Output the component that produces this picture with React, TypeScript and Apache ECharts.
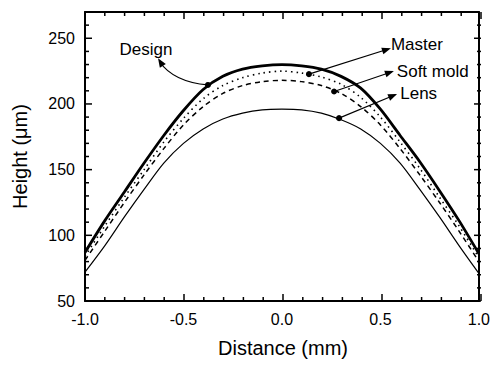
import React, { useEffect, useRef } from "react";
import * as echarts from "echarts";

const xs = [-1.0, -0.9, -0.8, -0.7, -0.6, -0.5, -0.4, -0.3, -0.2, -0.1, 0.0, 0.1, 0.2, 0.3, 0.4, 0.5, 0.6, 0.7, 0.8, 0.9, 1.0];
const design = [87, 111, 133, 155, 176, 195, 211, 221, 226.5, 229, 230, 229, 226.5, 221, 212, 196, 176, 156, 134, 111, 86];
const master = [84, 107, 129, 150, 171, 189, 204, 214, 220, 223.5, 225, 223.5, 220.5, 215, 205, 190, 171, 151, 129, 107, 83];
const softMold = [81, 103, 125, 146, 166, 184, 198, 208, 214, 217, 218, 217, 214, 208, 198, 184, 166, 146, 125, 103, 80];
const lens = [72, 92, 114, 135, 155, 170, 181, 188.5, 193, 195.5, 196, 195.5, 193, 188, 181, 170, 155, 135, 114, 92, 71];

const yTickLabels = [50, 100, 150, 200, 250];
const xMajorTicks = [-1.0, -0.5, 0.0, 0.5, 1.0];
const xMinorTicks = [-0.9, -0.8, -0.7, -0.6, -0.4, -0.3, -0.2, -0.1, 0.1, 0.2, 0.3, 0.4, 0.6, 0.7, 0.8, 0.9];
const yMajorTicks = [50, 100, 150, 200, 250];
const yMinorTicks = [60, 70, 80, 90, 110, 120, 130, 140, 160, 170, 180, 190, 210, 220, 230, 240, 260];
const xTitle = "Distance (mm)";
const yTitle = "Height (\u03bcm)";

// annotation anchors in data coordinates: [dotX, dotY, tipX, tipY, textX, textY]
const annMaster = [0.131, 222.7, 0.545, 242.4, 0.545, 245];
const annSoft = [0.258, 209.5, 0.56, 225, 0.575, 225];
const annLens = [0.283, 189.2, 0.576, 207.6, 0.592, 207.6];
const annDesign = [-0.379, 214.5, -0.631, 234.8, -0.692, 241.7];
const designCtrl = [-0.495, 215.9, -0.58, 222.5];

const FONT = "'Liberation Sans', Arial, Helvetica, sans-serif";
const W = 493, H = 365;
const GRID = { left: 85, right: 12, top: 12, bottom: 64 };
const X_MIN = -1, X_MAX = 1, Y_MIN = 50, Y_MAX = 270;

function pair(a: number[], b: number[]) {
  return a.map((v, i) => [v, b[i]]);
}

// same linear mapping the grid's value axes use (for annotations and axis ticks only)
function px(x: number, y: number) {
  const pw = W - GRID.left - GRID.right;
  const ph = H - GRID.top - GRID.bottom;
  return [GRID.left + ((x - X_MIN) / (X_MAX - X_MIN)) * pw, GRID.top + ((Y_MAX - y) / (Y_MAX - Y_MIN)) * ph];
}

function buildGraphics() {
  const graphics: any[] = [];
  const tick = (x1: number, y1: number, x2: number, y2: number) =>
    graphics.push({ type: "line", shape: { x1, y1, x2, y2 }, style: { stroke: "#000", lineWidth: 1.5 }, z: 20 });

  const bottomY = px(0, Y_MIN)[1];
  const topY = px(0, Y_MAX)[1];
  const leftX = px(X_MIN, 0)[0];
  const rightX = px(X_MAX, 0)[0];
  const xTick = (v: number, len: number) => {
    const x = px(v, Y_MIN)[0];
    tick(x, bottomY, x, bottomY - len);
    tick(x, topY, x, topY + len);
  };
  const yTick = (v: number, len: number) => {
    const y = px(X_MIN, v)[1];
    tick(leftX, y, leftX + len, y);
    tick(rightX, y, rightX - len, y);
  };
  xMajorTicks.forEach((v) => xTick(v, 7));
  xMinorTicks.forEach((v) => xTick(v, 4));
  yMajorTicks.forEach((v) => yTick(v, 7));
  yMinorTicks.forEach((v) => yTick(v, 4));

  const arrowHead = (tip: number[], from: number[]) => {
    const dx = tip[0] - from[0];
    const dy = tip[1] - from[1];
    const len = Math.sqrt(dx * dx + dy * dy) || 1;
    const ux = dx / len, uy = dy / len;
    const L = 9, Wd = 3.5;
    const bx = tip[0] - ux * L, by = tip[1] - uy * L;
    return {
      type: "polygon",
      shape: { points: [tip, [bx - uy * Wd, by + ux * Wd], [bx + uy * Wd, by - ux * Wd]] },
      style: { fill: "#000" },
      z: 10,
    };
  };
  const straight = (a: number[], label: string) => {
    const d = px(a[0], a[1]);
    const t = px(a[2], a[3]);
    const tx = px(a[4], a[5]);
    graphics.push({ type: "line", shape: { x1: d[0], y1: d[1], x2: t[0] - (t[0] - d[0]) * 0.03, y2: t[1] - (t[1] - d[1]) * 0.03 }, style: { stroke: "#000", lineWidth: 1.2 }, z: 10 });
    graphics.push(arrowHead(t, d));
    graphics.push({ type: "circle", shape: { cx: d[0], cy: d[1], r: 3 }, style: { fill: "#000" }, z: 11 });
    graphics.push({ type: "text", x: tx[0], y: tx[1], style: { text: label, fontSize: 17, fontFamily: FONT, fill: "#000", textAlign: "left", textVerticalAlign: "middle" }, z: 10 });
  };
  straight(annMaster, "Master");
  straight(annSoft, "Soft mold");
  straight(annLens, "Lens");
  {
    const d = px(annDesign[0], annDesign[1]);
    const t = px(annDesign[2], annDesign[3]);
    const tx = px(annDesign[4], annDesign[5]);
    const c1 = px(designCtrl[0], designCtrl[1]);
    const c2 = px(designCtrl[2], designCtrl[3]);
    graphics.push({ type: "bezierCurve", shape: { x1: d[0], y1: d[1], cpx1: c1[0], cpy1: c1[1], cpx2: c2[0], cpy2: c2[1], x2: t[0] + 2, y2: t[1] + 4 }, style: { stroke: "#000", lineWidth: 1.2, fill: null }, z: 10 });
    graphics.push(arrowHead(t, c2));
    graphics.push({ type: "circle", shape: { cx: d[0], cy: d[1], r: 3 }, style: { fill: "#000" }, z: 11 });
    graphics.push({ type: "text", x: tx[0], y: tx[1], style: { text: "Design", fontSize: 17, fontFamily: FONT, fill: "#000", textAlign: "center", textVerticalAlign: "middle" }, z: 10 });
  }
  graphics.push({
    type: "text",
    x: (leftX + rightX) / 2,
    y: bottomY + 47,
    style: { text: xTitle, fontSize: 20, fontFamily: FONT, fill: "#000", textAlign: "center", textVerticalAlign: "middle" },
  });
  graphics.push({
    type: "text",
    x: 20,
    y: (bottomY + topY) / 2,
    rotation: Math.PI / 2,
    style: { text: yTitle, fontSize: 20, fontFamily: FONT, fill: "#000", textAlign: "center", textVerticalAlign: "middle" },
  });
  return graphics;
}

export default function App() {
  const ref = useRef<HTMLDivElement>(null);
  useEffect(() => {
    const chart = echarts.init(ref.current!, null, { renderer: "svg" });
    const mkX = (position: string, labels: boolean) => ({
      type: "value",
      position,
      min: X_MIN,
      max: X_MAX,
      interval: 0.5,
      axisLine: { show: true, onZero: false, lineStyle: { color: "#000", width: 2 } },
      axisTick: { show: false },
      minorTick: { show: false },
      splitLine: { show: false },
      minorSplitLine: { show: false },
      axisLabel: labels
        ? { show: true, margin: 10, fontSize: 16, color: "#000", fontFamily: FONT, formatter: (v: number) => v.toFixed(1) }
        : { show: false },
    });
    const mkY = (position: string, labels: boolean) => ({
      type: "value",
      position,
      min: Y_MIN,
      max: Y_MAX,
      interval: 50,
      axisLine: { show: true, onZero: false, lineStyle: { color: "#000", width: 2 } },
      axisTick: { show: false },
      splitLine: { show: false },
      axisLabel: labels
        ? { show: true, margin: 10, fontSize: 16, color: "#000", fontFamily: FONT, formatter: (v: number) => (yTickLabels.indexOf(v) >= 0 ? String(v) : "") }
        : { show: false },
    });
    chart.setOption({
      animation: false,
      backgroundColor: "#fff",
      grid: { ...GRID },
      xAxis: [mkX("bottom", true), mkX("top", false)],
      yAxis: [mkY("left", true), mkY("right", false)],
      series: [
        { name: "Design", type: "line", data: pair(xs, design), smooth: 0.3, showSymbol: false, lineStyle: { color: "#000", width: 2.8 }, z: 5 },
        { name: "Master", type: "line", data: pair(xs, master), smooth: 0.3, showSymbol: false, lineStyle: { color: "#000", width: 1.6, type: [1.5, 4] } },
        { name: "Soft mold", type: "line", data: pair(xs, softMold), smooth: 0.3, showSymbol: false, lineStyle: { color: "#000", width: 1.5, type: [5, 4] } },
        { name: "Lens", type: "line", data: pair(xs, lens), smooth: 0.3, showSymbol: false, lineStyle: { color: "#000", width: 1.2 } },
      ],
      graphic: buildGraphics(),
    });
    return () => chart.dispose();
  }, []);
  return <div ref={ref} style={{ position: "fixed", left: 0, top: 0, width: W, height: H, background: "#fff" }} />;
}
